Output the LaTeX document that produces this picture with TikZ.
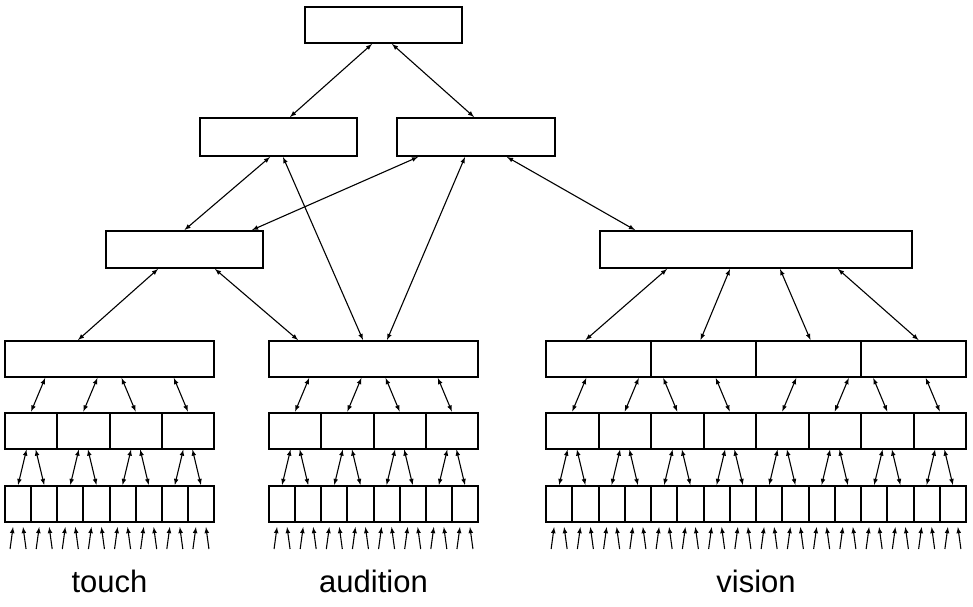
\documentclass[tikz,border=0pt]{standalone}
\usepackage{fontspec}
\setmainfont{Liberation Sans}
\usepackage{tikz}
\usetikzlibrary{arrows,calc}
\tikzstyle{unit}=[draw,line width=2pt,inner sep=0pt,minimum height=36pt]
\tikzstyle{link}=[<->,>=latex,line width=1.1pt]
\tikzstyle{feed}=[->,>=latex,line width=1.1pt]
\tikzstyle{sense}=[font=\fontsize{31}{33}\selectfont,anchor=base]

\begin{document}
\begin{tikzpicture}[x=1pt,y=-1pt]
\useasboundingbox (0,0) rectangle (973,606);

\node[unit,minimum width=157pt] (top) at (383.5,25) {};
\node[unit,minimum width=157pt,minimum height=38pt] (assocA) at (278.5,137) {};
\node[unit,minimum width=158pt,minimum height=38pt] (assocB) at (476,137) {};
\node[unit,minimum width=157pt,minimum height=37pt] (multi) at (184.5,249.5) {};
\node[unit,minimum width=312pt,minimum height=37pt] (vis) at (756,249.5) {};

% sensory hierarchies: group/left edge/width/boxes per level
\foreach \g/\xl/\W/\na/\nb/\nc in {t/5/209/1/4/8, a/269/209/1/4/8, v/546/420/4/8/16} {
  \foreach \k/\n/\y in {1/\na/359, 2/\nb/430.5, 3/\nc/504} {
    \pgfmathsetmacro\w{\W/\n}
    \foreach \i in {1,...,\n}
      \node[unit,minimum width=\w pt] (\g-\k-\i) at ({\xl+(\i-0.5)*\w},\y) {};
  }
  \foreach \i in {1,...,\nb} {
    \pgfmathtruncatemacro\p{ceil(\i*\na/\nb)}
    \pgfmathsetmacro\dx{mod(\i-1,4)<2 ? 14 : -14}
    \coordinate (tip) at ([xshift=\dx pt]\g-2-\i.north);
    \draw[link] (\g-2-\i.north) -- (tip |- \g-1-\p.south);
  }
  \foreach \i in {1,...,\nc} {
    \pgfmathtruncatemacro\p{ceil(\i/2)}
    \pgfmathsetmacro\dx{mod(\i,2)==1 ? 8.5 : -8.5}
    \coordinate (tip) at ([xshift=\dx pt]\g-3-\i.north);
    \draw[link] (\g-3-\i.north) -- (tip |- \g-2-\p.south);
    \draw[feed] ([xshift=-8pt,yshift=-26pt]\g-3-\i.south) -- ([xshift=-5pt,yshift=-4pt]\g-3-\i.south);
    \draw[feed] ([xshift=8pt,yshift=-26pt]\g-3-\i.south) -- ([xshift=5pt,yshift=-4pt]\g-3-\i.south);
  }
}

\draw[link] ([xshift=-11.5pt]top.south) -- ([xshift=11.5pt]assocA.north);
\draw[link] ([xshift=8.5pt]top.south) -- ([xshift=-2pt]assocB.north);
\draw[link] ([xshift=-8.5pt]assocA.south) -- (multi.north);
\draw[link] ([xshift=4.5pt]assocA.south) -- ([xshift=-10.5pt]a-1-1.north);
\draw[link] ([xshift=-58pt]assocB.south) -- ([xshift=67.5pt]multi.north);
\draw[link] ([xshift=-11pt]assocB.south) -- ([xshift=13.5pt]a-1-1.north);
\draw[link] ([xshift=31pt]assocB.south) -- ([xshift=-121pt]vis.north);
\draw[link] ([xshift=-26.5pt]multi.south) -- ([xshift=-31.5pt]t-1-1.north);
\draw[link] ([xshift=30.5pt]multi.south) -- ([xshift=-75.5pt]a-1-1.north);
\foreach \i/\s/\e in {1/-89/-13, 2/-26/-3, 3/24/2, 4/82/5}
  \draw[link] ([xshift=\s pt]vis.south) -- ([xshift=\e pt]v-1-\i.north);

\node[sense] (touch) at (109.5,592) {touch};
\node[sense] (audition) at (373.5,592) {audition};
\node[sense] (vision) at (756,592) {vision};
\end{tikzpicture}
\end{document}
